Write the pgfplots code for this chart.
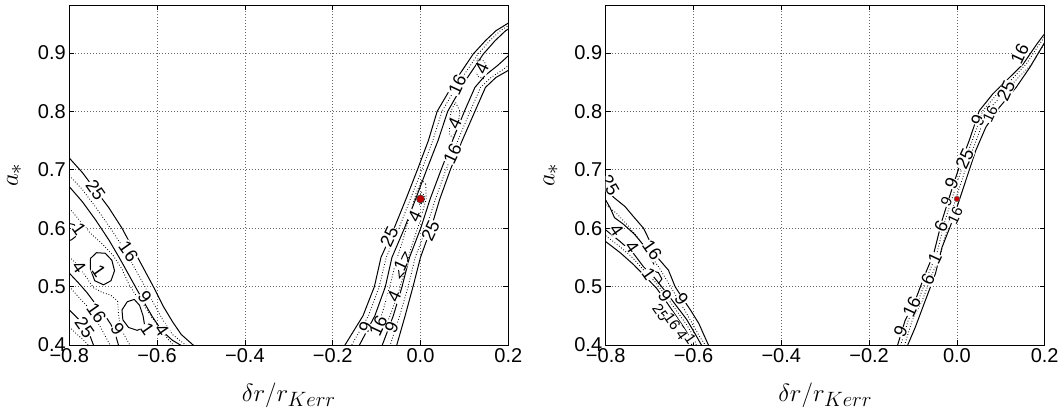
\documentclass[border=0pt]{standalone}
\usepackage{fontspec}
\setmainfont{Liberation Sans}
\usepackage{pgfplots}
\pgfplotsset{compat=1.18}
\tikzset{lab/.style={font=\fontsize{18}{19}\selectfont, fill=white, inner sep=0.3pt},
         labs/.style={font=\fontsize{15}{16}\selectfont, fill=white, inner sep=0.2pt}}
\pgfplotsset{
  panel/.style={
    width=439pt, height=340pt, scale only axis,
    xmin=-0.8, xmax=0.2, ymin=0.4, ymax=0.982,
    xtick={-0.8,-0.6,-0.4,-0.2,0,0.2},
    xticklabels={−0.8,−0.6,−0.4,−0.2,0.0,0.2},
    ytick={0.4,0.5,0.6,0.7,0.8,0.9},
    yticklabels={0.4,0.5,0.6,0.7,0.8,0.9},
    tick align=inside, major tick length=5pt,
    tick style={black, line width=0.6pt},
    grid=major, major grid style={black!60, line width=0.7pt, dash pattern=on 0.8pt off 2.2pt},
    axis line style={black, line width=0.8pt},
    ticklabel style={font=\fontsize{20}{22}\selectfont},
    xlabel={$\delta r/r_{Kerr}$}, ylabel={$a_*$},
    label style={font=\fontsize{28}{32}\selectfont},
    x label style={at={(axis description cs:0.5,-0.165)}, anchor=base},
    y label style={at={(axis description cs:-0.125,0.5)}, anchor=center},
  },
  cs/.style={black, line width=1pt},
  cd/.style={black, line width=0.85pt, dash pattern=on 0.8pt off 2pt},
}
\begin{document}
\begin{tikzpicture}
% ---------------- left panel ----------------
\begin{axis}[panel, at={(0pt,0pt)}, anchor=south west]
% left region
\addplot[cs] coordinates {(-0.8,0.72) (-0.77,0.695) (-0.74,0.665) (-0.71,0.635) (-0.68,0.60) (-0.655,0.565) (-0.63,0.53) (-0.605,0.495) (-0.585,0.465) (-0.565,0.44) (-0.545,0.418) (-0.518,0.40) (-0.50,0.39)};
\addplot[cd] coordinates {(-0.8,0.69) (-0.77,0.666) (-0.74,0.636) (-0.71,0.604) (-0.68,0.57) (-0.655,0.537) (-0.63,0.503) (-0.607,0.47) (-0.587,0.443) (-0.565,0.418) (-0.535,0.40) (-0.52,0.39)};
\addplot[cs] coordinates {(-0.8,0.671) (-0.77,0.645) (-0.74,0.614) (-0.71,0.58) (-0.685,0.548) (-0.66,0.514) (-0.635,0.48) (-0.612,0.45) (-0.59,0.425) (-0.565,0.408) (-0.547,0.40) (-0.535,0.39)};
\addplot[cd] coordinates {(-0.8,0.634) (-0.775,0.612) (-0.75,0.59) (-0.725,0.573) (-0.70,0.553) (-0.68,0.53) (-0.665,0.505) (-0.65,0.487) (-0.63,0.468) (-0.61,0.445) (-0.59,0.425) (-0.575,0.41) (-0.563,0.40) (-0.555,0.39)};
\addplot[cs] coordinates {(-0.8,0.608) (-0.789,0.606) (-0.781,0.597) (-0.785,0.586) (-0.795,0.58) (-0.8,0.579)};
\addplot[cs] coordinates {(-0.752,0.548) (-0.738,0.558) (-0.718,0.557) (-0.703,0.545) (-0.697,0.527) (-0.705,0.51) (-0.722,0.503) (-0.742,0.51) (-0.752,0.53) (-0.752,0.548)};
\addplot[cs] coordinates {(-0.652,0.478) (-0.668,0.474) (-0.68,0.46) (-0.678,0.443) (-0.665,0.43) (-0.645,0.425) (-0.628,0.432) (-0.632,0.45) (-0.64,0.468) (-0.652,0.478)};
\addplot[cd] coordinates {(-0.8,0.551) (-0.785,0.54) (-0.765,0.52) (-0.745,0.498) (-0.725,0.49) (-0.705,0.485) (-0.69,0.475) (-0.688,0.455) (-0.685,0.435) (-0.675,0.417) (-0.662,0.40) (-0.655,0.39)};
\addplot[cs] coordinates {(-0.8,0.523) (-0.78,0.507) (-0.76,0.49) (-0.74,0.47) (-0.72,0.452) (-0.705,0.435) (-0.695,0.418) (-0.688,0.40) (-0.685,0.39)};
\addplot[cd] coordinates {(-0.8,0.50) (-0.78,0.483) (-0.76,0.467) (-0.745,0.45) (-0.73,0.432) (-0.718,0.415) (-0.707,0.40) (-0.70,0.39)};
\addplot[cs] coordinates {(-0.8,0.46) (-0.78,0.445) (-0.765,0.435) (-0.755,0.42) (-0.745,0.40) (-0.74,0.39)};
\addplot[cd] coordinates {(-0.8,0.431) (-0.785,0.42) (-0.77,0.41) (-0.757,0.40) (-0.75,0.39)};
% right band
\addplot[cs] coordinates {(-0.19,0.38) (-0.172,0.40) (-0.131,0.45) (-0.105,0.50) (-0.090,0.55) (-0.060,0.60) (-0.033,0.65) (-0.007,0.70) (0.018,0.75) (0.038,0.80) (0.077,0.85) (0.095,0.87) (0.120,0.898) (0.148,0.921) (0.172,0.938) (0.2,0.951) (0.25,0.975)};
\addplot[cd] coordinates {(-0.173,0.38) (-0.157,0.40) (-0.1185,0.45) (-0.094,0.50) (-0.078,0.55) (-0.049,0.60) (-0.023,0.65) (0.003,0.70) (0.028,0.75) (0.049,0.80) (0.088,0.85) (0.106,0.87) (0.131,0.898) (0.158,0.921) (0.182,0.938) (0.21,0.951) (0.26,0.975)};
\addplot[cs] coordinates {(-0.154,0.38) (-0.139,0.40) (-0.104,0.45) (-0.080,0.50) (-0.065,0.55) (-0.0365,0.60) (-0.011,0.65) (0.014,0.70) (0.040,0.75) (0.062,0.80) (0.100,0.85) (0.118,0.87) (0.143,0.898) (0.170,0.921) (0.194,0.938) (0.222,0.951) (0.27,0.975)};
\addplot[cs] coordinates {(-0.063,0.38) (-0.054,0.40) (-0.035,0.45) (-0.017,0.50) (0.000,0.55) (0.024,0.60) (0.044,0.65) (0.068,0.70) (0.095,0.75) (0.124,0.80) (0.148,0.841) (0.172,0.858) (0.2,0.870) (0.24,0.89)};
\addplot[cd] coordinates {(-0.080,0.38) (-0.069,0.40) (-0.0475,0.45) (-0.028,0.50) (-0.012,0.55) (0.013,0.60) (0.034,0.65) (0.058,0.70) (0.085,0.75) (0.113,0.80) (0.137,0.841) (0.161,0.858) (0.189,0.872) (0.23,0.895)};
\addplot[cs] coordinates {(-0.099,0.38) (-0.087,0.40) (-0.062,0.45) (-0.042,0.50) (-0.025,0.55) (0.0005,0.60) (0.022,0.65) (0.047,0.70) (0.073,0.75) (0.100,0.80) (0.124,0.841) (0.148,0.862) (0.175,0.878) (0.2,0.895) (0.23,0.91)};
\addplot[cd] coordinates {(0.012,0.675) (0.013,0.65) (-0.002,0.61) (-0.02,0.57) (-0.035,0.53) (-0.05,0.49) (-0.067,0.455) (-0.08,0.43) (-0.09,0.425) (-0.095,0.435) (-0.085,0.46) (-0.07,0.50) (-0.057,0.54) (-0.04,0.58) (-0.025,0.62) (-0.01,0.66) (0.003,0.682) (0.012,0.675)};
\addplot[cd] coordinates {(0.08,0.815) (0.09,0.80) (0.085,0.775) (0.074,0.755) (0.066,0.76) (0.066,0.785) (0.072,0.805) (0.08,0.815)};
\addplot[cd] coordinates {(0.13,0.89) (0.145,0.886) (0.152,0.872) (0.143,0.856) (0.13,0.86) (0.125,0.875) (0.13,0.89)};
\addplot[cs] coordinates {(-0.035,0.56) (-0.028,0.545) (-0.036,0.525) (-0.048,0.515) (-0.05,0.53) (-0.042,0.55) (-0.035,0.56)};
\addplot[cd] coordinates {(0.002,0.662) (0.01,0.655) (0.008,0.645) (-0.002,0.64) (-0.006,0.65) (0.002,0.662)};
\addplot[only marks, mark=*, mark size=4pt, mark options={fill=red!75!black, draw=black!75, line width=0.6pt}] coordinates {(0,0.65)};
% labels
\node[lab, rotate=-55] at (-0.74,0.665) {25};
\node[lab, rotate=-55] at (-0.665,0.56) {16};
\node[lab, rotate=-55] at (-0.628,0.482) {9};
\node[lab, rotate=-55] at (-0.589,0.425) {4};
\node[lab, rotate=-55] at (-0.622,0.428) {1};
\node[lab, rotate=-55] at (-0.69,0.427) {9};
\node[lab, rotate=-55] at (-0.778,0.533) {4};
\node[lab, rotate=-55] at (-0.733,0.527) {1};
\node[lab, rotate=-55] at (-0.778,0.598) {1};
\node[lab, rotate=-55] at (-0.738,0.455) {16};
\node[lab, rotate=-55] at (-0.765,0.43) {25};
\node[lab, rotate=65] at (0.084,0.845) {16};
\node[lab, rotate=65] at (0.14,0.873) {4};
\node[lab, rotate=65] at (0.078,0.78) {4};
\node[lab, rotate=65] at (0.073,0.728) {16};
\node[lab, rotate=65] at (-0.071,0.585) {25};
\node[lab, rotate=65] at (-0.013,0.62) {4};
\node[lab, rotate=65] at (0.023,0.596) {25};
\node[lab, rotate=65] at (-0.045,0.537) {1};
\node[lab, rotate=65] at (-0.06,0.483) {4};
\node[lab, rotate=65] at (-0.125,0.43) {9};
\node[lab, rotate=65] at (-0.096,0.432) {16};
\node[lab, rotate=65] at (-0.066,0.43) {9};
\end{axis}
% ---------------- right panel ----------------
\begin{axis}[panel, at={(536.4pt,0pt)}, anchor=south west]
\addplot[cs] coordinates {(-0.81,0.672) (-0.8,0.665) (-0.779,0.651) (-0.756,0.637) (-0.737,0.620) (-0.714,0.600) (-0.697,0.574) (-0.680,0.548) (-0.657,0.528) (-0.642,0.500) (-0.625,0.480) (-0.607,0.460) (-0.588,0.437) (-0.575,0.415) (-0.566,0.40) (-0.563,0.39)};
\addplot[cs] coordinates {(-0.8,0.648) (-0.79,0.635) (-0.78,0.618) (-0.76,0.607) (-0.735,0.59) (-0.715,0.572) (-0.70,0.552) (-0.69,0.538)};
\addplot[cd] coordinates {(-0.8,0.64) (-0.775,0.625) (-0.75,0.605) (-0.725,0.582) (-0.70,0.556) (-0.678,0.532) (-0.658,0.507) (-0.638,0.482) (-0.618,0.457) (-0.60,0.433) (-0.585,0.413) (-0.573,0.40) (-0.57,0.39)};
\addplot[cs] coordinates {(-0.8,0.597) (-0.767,0.577) (-0.737,0.557) (-0.714,0.534) (-0.691,0.517) (-0.661,0.489) (-0.638,0.466) (-0.615,0.443) (-0.597,0.42) (-0.582,0.40) (-0.578,0.39)};
\addplot[cd] coordinates {(-0.8,0.587) (-0.767,0.568) (-0.737,0.548) (-0.71,0.525) (-0.686,0.507) (-0.66,0.481) (-0.637,0.457) (-0.615,0.434) (-0.60,0.415) (-0.594,0.40) (-0.592,0.39)};
\addplot[cs] coordinates {(-0.8,0.577) (-0.767,0.558) (-0.737,0.538) (-0.707,0.515) (-0.684,0.497) (-0.661,0.473) (-0.64,0.45) (-0.622,0.43) (-0.61,0.415) (-0.604,0.40) (-0.602,0.39)};
\addplot[cs] coordinates {(-0.695,0.527) (-0.68,0.524) (-0.672,0.513) (-0.68,0.505)};
% band
\addplot[cs] coordinates {(-0.14,0.39) (-0.135,0.40) (-0.118,0.442) (-0.095,0.476) (-0.072,0.522) (-0.053,0.556) (-0.034,0.613) (-0.010,0.670) (0.005,0.704) (0.028,0.750) (0.051,0.801) (0.082,0.830) (0.120,0.858) (0.151,0.881) (0.182,0.915) (0.197,0.930) (0.215,0.945)};
\addplot[cd] coordinates {(-0.133,0.39) (-0.128,0.40) (-0.111,0.442) (-0.088,0.476) (-0.065,0.522) (-0.046,0.556) (-0.027,0.613) (-0.003,0.670) (0.012,0.704) (0.035,0.750) (0.059,0.801) (0.092,0.830) (0.129,0.858) (0.159,0.882) (0.188,0.915) (0.205,0.933)};
\addplot[cd] coordinates {(-0.124,0.39) (-0.119,0.40) (-0.102,0.442) (-0.079,0.476) (-0.056,0.522) (-0.037,0.556) (-0.018,0.613) (0.006,0.670) (0.021,0.704) (0.044,0.750) (0.069,0.801) (0.107,0.830) (0.14,0.858) (0.17,0.88) (0.196,0.912) (0.212,0.93)};
\addplot[cs] coordinates {(-0.117,0.39) (-0.112,0.40) (-0.095,0.43) (-0.072,0.476) (-0.049,0.522) (-0.034,0.567) (-0.010,0.613) (0.005,0.647) (0.020,0.681) (0.043,0.733) (0.066,0.773) (0.097,0.807) (0.135,0.841) (0.166,0.875) (0.2,0.918) (0.22,0.94)};
\addplot[only marks, mark=*, mark size=2.8pt, mark options={fill=red!80!black, draw=black!60, line width=0.5pt}] coordinates {(0,0.65)};
% labels
\node[lab, rotate=-60] at (-0.79,0.673) {25};
\node[lab, rotate=-55] at (-0.694,0.562) {16};
\node[lab, rotate=-55] at (-0.775,0.596) {4};
\node[lab, rotate=-55] at (-0.74,0.567) {4};
\node[lab, rotate=-55] at (-0.702,0.522) {1};
\node[lab, rotate=-55] at (-0.665,0.484) {9};
\node[lab, rotate=-55] at (-0.627,0.478) {9};
\node[labs, rotate=-55] at (-0.675,0.455) {25};
\node[labs, rotate=-55] at (-0.648,0.441) {16};
\node[labs, rotate=-55] at (-0.627,0.418) {4};
\node[labs, rotate=-55] at (-0.607,0.41) {1};
\node[lab, rotate=65] at (-0.128,0.423) {9};
\node[lab, rotate=65] at (-0.103,0.466) {16};
\node[lab, rotate=65] at (-0.066,0.512) {6};
\node[lab, rotate=65] at (-0.05,0.548) {1};
\node[lab, rotate=65] at (-0.036,0.603) {6};
\node[labs, rotate=65] at (-0.024,0.645) {9};
\node[labs, rotate=65] at (-0.004,0.622) {16};
\node[lab, rotate=65] at (-0.012,0.677) {9};
\node[lab, rotate=65] at (0.018,0.718) {25};
\node[lab, rotate=65] at (0.048,0.785) {9};
\node[labs, rotate=65] at (0.076,0.795) {16};
\node[lab, rotate=65] at (0.112,0.835) {25};
\node[lab, rotate=65] at (0.143,0.898) {16};
\end{axis}
\pgfresetboundingbox
\path[use as bounding box] (-69.3pt,-64pt) rectangle (989.7pt,345pt);
\end{tikzpicture}
\end{document}
